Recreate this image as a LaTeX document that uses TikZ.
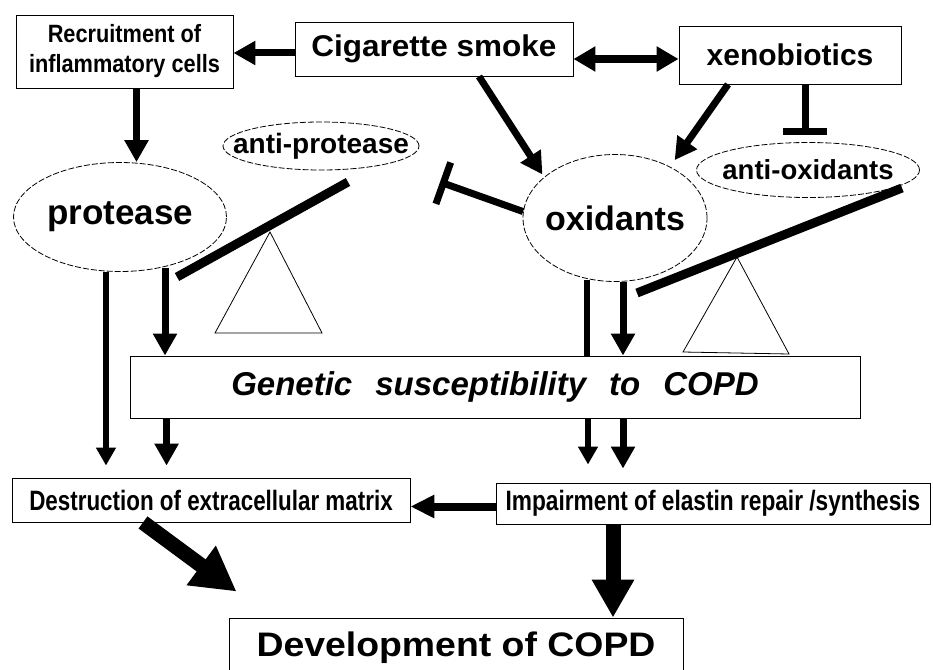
\documentclass[tikz,border=0pt]{standalone}
\usepackage{fontspec}
\setmainfont{Liberation Sans}
\usepackage{graphicx}
\usetikzlibrary{shapes.geometric,arrows.meta,calc}
\newcommand\sx[2]{\scalebox{#1}[1]{#2}}
\newcommand\zw[1]{\makebox[0pt]{#1}}
\begin{document}
\begin{tikzpicture}[x=1pt,y=-1pt,
  box/.style={draw, line width=0.9pt, inner sep=0pt},
  ell/.style={draw, ellipse, line width=0.8pt, dash pattern=on 6pt off 2pt, inner sep=0pt},
  fnt/.style={font={\bfseries\fontsize{#1}{#1}\selectfont}},
  arrS/.style={line width=5.5pt, -{Triangle[length=18pt,width=19pt]}},
  arrM/.style={line width=7pt, -{Triangle[length=22pt,width=23pt]}},
  arrH/.style={line width=8pt, -{Triangle[length=24pt,width=22pt]}},
  arrD/.style={line width=7pt, {Triangle[length=22pt,width=24pt]}-{Triangle[length=22pt,width=24pt]}},
  arrB/.style={line width=15pt, -{Triangle[length=44pt,width=46pt]}},
  inh/.style={line width=7pt, -{Bar[width=44pt]}},
  beam/.style={line width=9pt},
  tri/.style={draw, line width=0.8pt}
]
\useasboundingbox (0,0) rectangle (933,669);

% nodes
\node[box, minimum width=217pt, minimum height=73pt, align=center,
      font={\bfseries\fontsize{25}{30}\selectfont}] (rec) at (124.5,51.5)
      {\sx{0.87}{Recruitment of}\\\sx{0.87}{inflammatory cells}};
\node[box, fnt=30, minimum width=278pt, minimum height=54pt] (cig) at (434,49) {\sx{1.05}{Cigarette smoke}};
\node[box, fnt=30, minimum width=222pt, minimum height=58pt] (xeno) at (790,55) {xenobiotics};
\node[ell, fnt=28, minimum width=196pt, minimum height=48pt] (antip) at (321,146) {\zw{anti-protease}};
\node[ell, fnt=35, minimum width=213pt, minimum height=109pt] (prot) at (120,217) {\zw{protease}};
\node[ell, fnt=34, minimum width=184pt, minimum height=127pt] (oxid) at (615,218) {\zw{oxidants}};
\node[ell, fnt=27.5, minimum width=223pt, minimum height=55pt] (antio) at (808,170) {\zw{anti-oxidants}};
\node[box, font={\bfseries\itshape\fontsize{33}{33}\selectfont}, minimum width=730pt, minimum height=62pt] (gen) at (495,387)
      {Genetic\hspace{23pt}susceptibility\hspace{23pt}to\hspace{23pt}COPD};
\node[box, fnt=28, minimum width=398pt, minimum height=44pt] (dest) at (211,500) {\sx{0.8}{Destruction of extracellular matrix}};
\node[box, fnt=28, minimum width=434pt, minimum height=41pt] (imp) at (713,503.5) {\sx{0.81}{Impairment of elastin repair /synthesis}};
\node[box, fnt=34, minimum width=454pt, minimum height=60pt] (dev) at (456,648) {\sx{1.1}{Development of COPD}};

% balance beams and fulcrums
\draw[beam] (177,277) -- (348,182);
\draw[tri] (270,232) -- (322,333) -- (215,333) -- cycle;
\draw[beam] (637,293) -- (902,188);
\draw[tri] (737,257) -- (789,354) -- (683,352) -- cycle;

% top connectors
\coordinate (c1) at ($(cig.west)+(0,4)$);
\draw[arrM] (c1) -- (c1 -| rec.east);
\coordinate (c2) at ($(cig.east)+(0,10)$);
\draw[arrD] (c2) -- (c2 -| xeno.west);
\coordinate (r1) at ($(rec.south)+(12,0)$);
\draw[arrM] (r1) -- (r1 |- prot.north);
\coordinate (c3) at ($(cig.south)+(45,0)$);
\draw[arrM, shorten >=3pt] (c3) -- (oxid.150);
\coordinate (x2) at ($(xeno.south)+(-62,0)$);
\draw[arrM, shorten >=8pt] (x2) -- (oxid.43);
\coordinate (x1) at ($(xeno.south)+(15,0)$);
\draw[inh, shorten >=7pt] (x1) -- (x1 |- antio.north);
\coordinate (ib) at (440,182);
\draw[inh] (oxid.176) -- (ib);

% verticals from protease
\coordinate (pl) at ($(prot.south)+(-14,0)$);
\draw[arrS, shorten >=12pt] (pl) -- (pl |- dest.north);
\coordinate (pr) at ($(prot.south)+(45,-4)$);
\draw[arrM] (pr) -- (pr |- gen.north);
\coordinate (gl) at ($(gen.south west)+(37,0)$);
\draw[arrM, shorten >=12pt] (gl) -- (gl |- dest.north);

% verticals from oxidants
\coordinate (ol) at ($(oxid.south)+(-28,-2)$);
\draw[line width=6pt] (ol) -- (ol |- gen.north);
\coordinate (or) at ($(oxid.south)+(8,0)$);
\draw[arrM] (or) -- (or |- gen.north);
\coordinate (gb1) at ($(gen.south)+(93,0)$);
\draw[arrS, shorten >=18pt] (gb1) -- (gb1 |- imp.north);
\coordinate (gb2) at ($(gen.south)+(128,0)$);
\draw[arrM, shorten >=14pt] (gb2) -- (gb2 |- imp.north);

% bottom connectors
\coordinate (iw) at ($(imp.west)+(0,3)$);
\draw[arrH] (iw) -- (iw -| dest.east);
\coordinate (d1) at ($(dest.south)+(-68,0)$);
\coordinate (d2) at ($(dev.north west)+(8,-26)$);
\draw[arrB] (d1) -- (d2);
\coordinate (i1) at ($(imp.south)+(-100,0)$);
\draw[line width=15pt, -{Triangle[length=38pt,width=40pt]}] (i1) -- (i1 |- dev.north);
\end{tikzpicture}
\end{document}
